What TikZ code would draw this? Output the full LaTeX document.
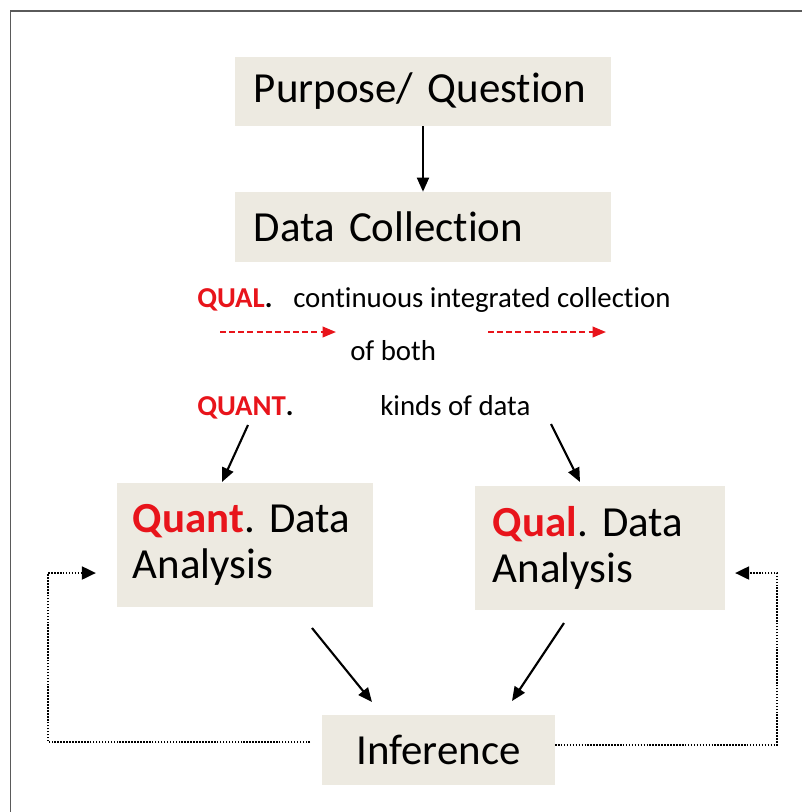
\documentclass[tikz,border=0pt]{standalone}
\usepackage{fontspec}
\setmainfont{Carlito}[Ligatures=NoCommon]
\usepackage{xcolor}
\usetikzlibrary{positioning,arrows.meta}
\definecolor{boxFill}{HTML}{EDEAE1}
\definecolor{mixRed}{HTML}{E8141B}
\definecolor{frameGrey}{HTML}{5A5A5A}
\newcommand{\red}[1]{\textbf{\textcolor{mixRed}{#1}}}
\frenchspacing

\begin{document}
\begin{tikzpicture}[
    x=0.025cm, y=-0.025cm,
    box/.style={fill=boxFill, align=left, inner ysep=0pt, font=\fontsize{30.5}{32.5}\selectfont},
    lbl/.style={anchor=base west, inner sep=0pt, font=\fontsize{20.5}{24}\selectfont},
    arr/.style={-{Triangle[length=10pt,width=8.5pt]}, line width=1.5pt},
    redarr/.style={-{Triangle[length=9.5pt,width=7.5pt]}, mixRed, line width=1.4pt, dash pattern=on 4.3pt off 2.2pt},
    loop/.style={-{Triangle[length=10pt,width=9pt]}, line width=2pt, dash pattern=on 1.1pt off 1pt}
  ]
  \useasboundingbox (0,0) rectangle (802,812);
  \draw[frameGrey, line width=1.1pt] (10.5,812) |- (802,11);

  % main boxes
  \node[box, minimum height=1.725cm, inner xsep=0.475cm, text width=8.45cm] (purpose) at (423,91.5) {Purpose/~Question};
  \node[box, minimum height=1.75cm, inner xsep=0.475cm, text width=8.45cm] (collect) at (423,227) {Data Collection};
  \node[box, minimum height=3.1cm, inner xsep=0.4cm, text width=5.6cm] (quant) at (245,545) {\red{Quant}.~Data\\Analysis};
  \node[box, minimum height=3.1cm, inner xsep=0.45cm, text width=5.35cm] (qual) at (600,548) {\red{Qual}.~Data\\Analysis};
  \node[box, align=center, minimum height=1.75cm, minimum width=5.825cm] (infer) at (438.5,750) {Inference};

  % text between collection and analysis
  \node[lbl] (qualLbl) at (197,307) {\red{QUAL}\textbf{.}};
  \node[lbl] (contLbl) at (293,307) {continuous integrated collection};
  \node[lbl] (bothLbl) at (350,360) {of both};
  \node[lbl] (quantLbl) at (197,415) {\red{QUANT}\textbf{.}};
  \node[lbl] (kindsLbl) at (380,415) {kinds of data};

  % free arrow ends
  \coordinate (r1a) at (220,332);
  \coordinate (r1b) at (336,332);
  \coordinate (r2a) at (488,332);
  \coordinate (r2b) at (606,332);
  \coordinate (qtStart) at (248,425);
  \coordinate (qtEnd) at (222,482);
  \coordinate (qlStart) at (551,424);
  \coordinate (qlEnd) at (580,482);
  \coordinate (qtOut) at (312,628);
  \coordinate (qtIn) at (372,702);
  \coordinate (qlOut) at (564,623);
  \coordinate (qlIn) at (512,701);
  \coordinate (loopL) at (310,742);
  \coordinate (loopLTip) at (96,573);
  \coordinate (loopR) at (555,745);
  \coordinate (loopRTip) at (735,573);

  \draw[arr] (purpose)--(collect);
  \draw[redarr] (r1a)--(r1b);
  \draw[redarr] (r2a)--(r2b);
  \draw[arr] (qtStart)--(qtEnd);
  \draw[arr] (qlStart)--(qlEnd);
  \draw[arr] (qtOut)--(qtIn);
  \draw[arr] (qlOut)--(qlIn);

  % feedback loops from inference
  \draw[loop] (loopL) -- (48,742) |- (loopLTip);
  \draw[loop] (loopR) -- (777,745) |- (loopRTip);
\end{tikzpicture}
\end{document}
